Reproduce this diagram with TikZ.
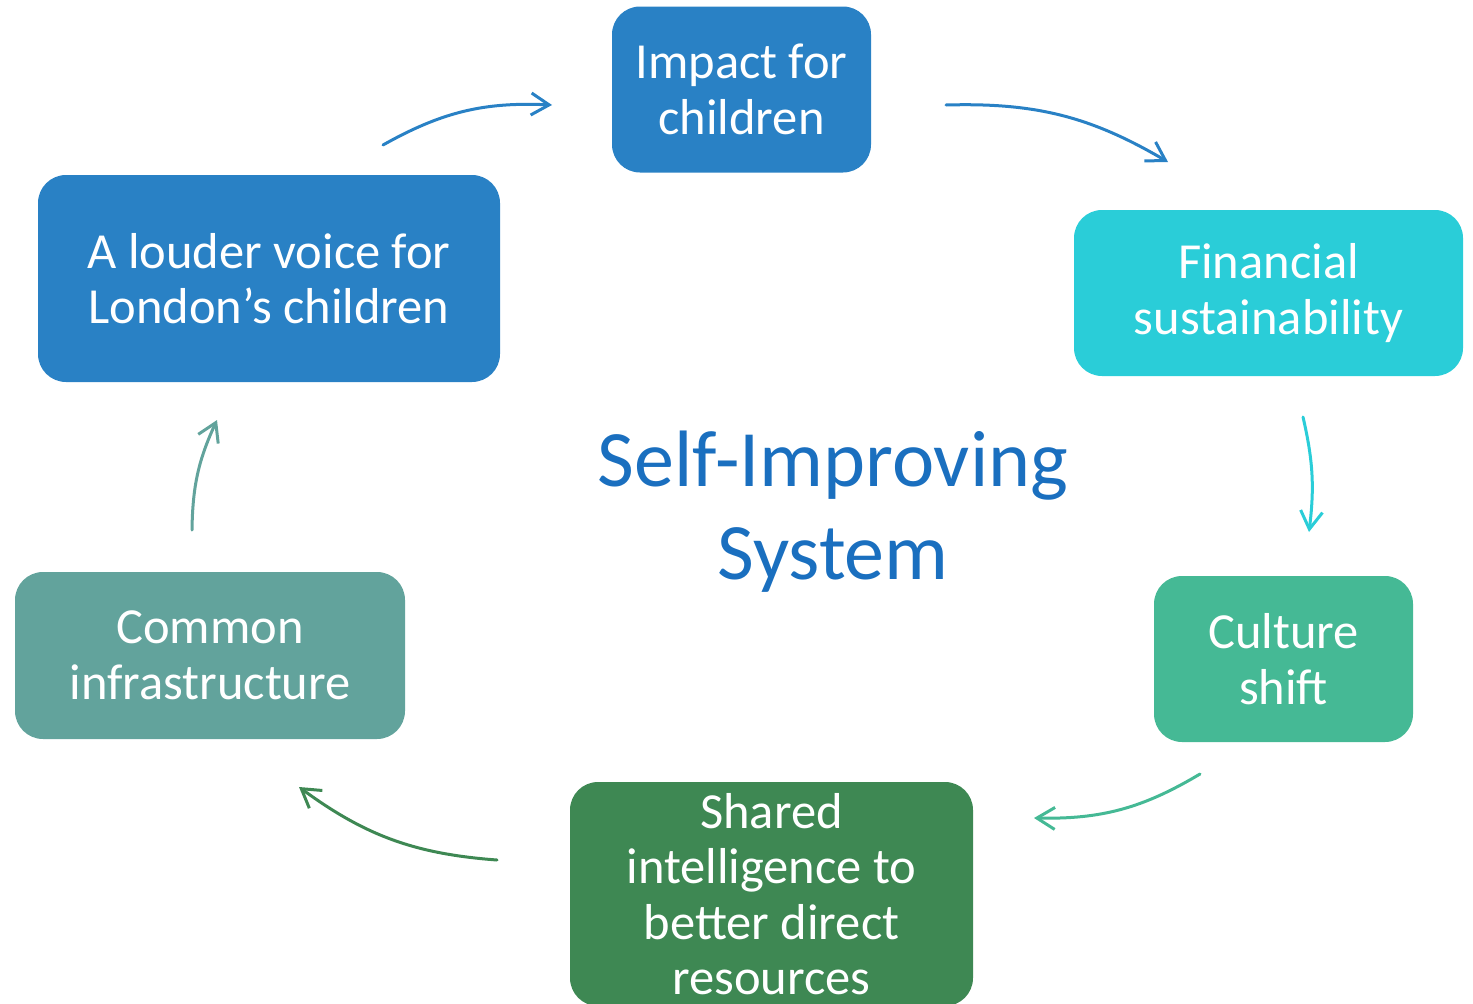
\documentclass[tikz,border=0pt]{standalone}
\usepackage{fontspec}
\setmainfont{Carlito}
\usetikzlibrary{arrows.meta}
\definecolor{cblue}{HTML}{2981C5}
\definecolor{ccyan}{HTML}{2ACDD8}
\definecolor{cgreen}{HTML}{45B995}
\definecolor{cdgreen}{HTML}{3E8853}
\definecolor{cteal}{HTML}{62A39C}
\definecolor{ctitle}{HTML}{1A6FBF}
\tikzset{
  box/.style={rounded corners=28pt, inner sep=0pt, align=center, text=white,
    font=\fontsize{50.5}{55.5}\selectfont},
  flow/.style={line width=3pt, line cap=round,
    -{Straight Barb[length=18pt,width=22pt,line width=3pt]}, bend left=16}
}
\begin{document}
\begin{tikzpicture}[x=1pt,y=-1pt]
\useasboundingbox (0,0) rectangle (1473,1004);
\clip (0,0) rectangle (1473,1004);
\node[box, fill=cblue, minimum width=259pt, minimum height=166pt] (impact) at (741.5,89.5) {Impact for\\children};
\node[box, fill=ccyan, minimum width=389pt, minimum height=166pt] (fin) at (1268.5,293) {Financial\\sustainability};
\node[box, fill=cgreen, minimum width=259pt, minimum height=166pt] (culture) at (1283.5,659) {Culture\\shift};
\node[box, fill=cdgreen, minimum width=403pt, minimum height=224pt] (shared) at (771.5,894) {Shared\\intelligence to\\better direct\\resources};
\node[box, fill=cteal, minimum width=390pt, minimum height=167pt] (common) at (210,655.5) {Common\\infrastructure};
\node[box, fill=cblue, minimum width=462pt, minimum height=207pt] (louder) at (269,278.5) {A louder voice for\\London’s children};
\node[align=center, text=ctitle, font=\fontsize{80}{93}\selectfont] (title) at (833,512) {Self-Improving\\System};
\coordinate (a1s) at (383,145); \coordinate (a1e) at (552,105);
\coordinate (a2s) at (946,105); \coordinate (a2e) at (1168,162);
\coordinate (a3s) at (1303,417); \coordinate (a3e) at (1309,532);
\coordinate (a4s) at (1200,774); \coordinate (a4e) at (1034,818);
\coordinate (a5s) at (497,860); \coordinate (a5e) at (299,787);
\coordinate (a6s) at (192,530); \coordinate (a6e) at (217,420);
\draw[flow, cblue] (a1s) to (a1e);
\draw[flow, cblue] (a2s) to (a2e);
\draw[flow, ccyan, bend left=10] (a3s) to (a3e);
\draw[flow, cgreen] (a4s) to (a4e);
\draw[flow, cdgreen] (a5s) to (a5e);
\draw[flow, cteal, bend left=12] (a6s) to (a6e);
\end{tikzpicture}
\end{document}
